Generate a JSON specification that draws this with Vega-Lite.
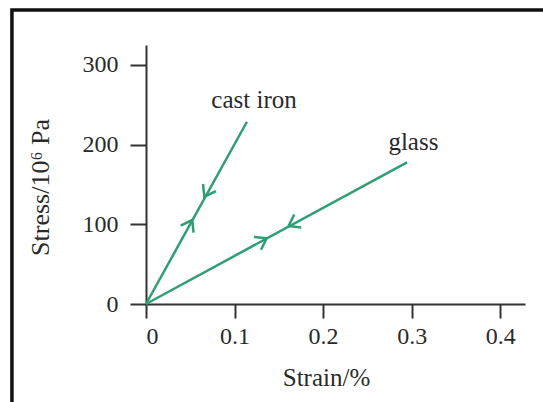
{
  "$schema": "https://vega.github.io/schema/vega-lite/v6.json",
  "width": 379,
  "height": 259,
  "autosize": {"type": "none"},
  "padding": {"left": 146, "top": 45, "right": 18, "bottom": 98},
  "background": "white",
  "config": {"view": {"stroke": null}, "font": "Liberation Serif"},
  "datasets": {
    "curves": [
      {"material": "cast iron", "strain": 0, "stress": 0},
      {"material": "cast iron", "strain": 0.114, "stress": 228.7},
      {"material": "glass", "strain": 0, "stress": 0},
      {"material": "glass", "strain": 0.2948, "stress": 177.8}
    ],
    "arrows": [
      {"material": "cast iron", "phase": "loading", "strain": 0.0522, "stress": 105.4},
      {"material": "cast iron", "phase": "unloading", "strain": 0.0659, "stress": 134.6},
      {"material": "glass", "phase": "loading", "strain": 0.1363, "stress": 82.4},
      {"material": "glass", "phase": "unloading", "strain": 0.161, "stress": 97.9}
    ],
    "labels": [
      {"material": "cast iron", "strain": 0.122, "stress": 256},
      {"material": "glass", "strain": 0.302, "stress": 203}
    ]
  },
  "layer": [
    {
      "data": {"values": [{}]},
      "mark": {"type": "rect", "fill": "transparent", "stroke": "#111111", "strokeWidth": 3.5, "clip": false},
      "encoding": {
        "x": {"datum": -0.1514, "type": "quantitative", "scale": {"domain": [0, 0.428], "nice": false, "zero": false}},
        "x2": {"datum": 0.4565},
        "y": {"datum": 368.9, "type": "quantitative", "scale": {"domain": [0, 325], "nice": false, "zero": false}},
        "y2": {"datum": -133}
      }
    },
    {
      "data": {"name": "curves"},
      "mark": {"type": "line", "color": "#2f9e73", "strokeWidth": 2.5},
      "encoding": {
        "detail": {"field": "material", "type": "nominal"},
        "x": {
          "field": "strain", "type": "quantitative",
          "scale": {"domain": [0, 0.428], "nice": false, "zero": false},
          "axis": {
            "values": [0, 0.1, 0.2, 0.3, 0.4], "format": "~g", "grid": false,
            "title": "Strain/%", "titleFont": "Liberation Serif", "titleFontSize": 25, "titleFontWeight": "normal", "titleColor": "#2a2a2a",
            "titleX": 180, "titleY": 73, "titleBaseline": "middle", "titleAnchor": null, "titleAlign": "center",
            "labelFont": "Liberation Serif", "labelFontSize": 24, "labelColor": "#2a2a2a", "labelPadding": 6,
            "domainColor": "#333333", "domainWidth": 2, "tickColor": "#333333", "tickWidth": 2, "tickSize": 14
          }
        },
        "y": {
          "field": "stress", "type": "quantitative",
          "scale": {"domain": [0, 325], "nice": false, "zero": false},
          "axis": {
            "values": [0, 100, 200, 300], "grid": false,
            "title": "Stress/10⁶ Pa", "titleFont": "Liberation Serif", "titleFontSize": 26, "titleFontWeight": "normal", "titleColor": "#2a2a2a",
            "titleX": -106, "titleY": 142, "titleAngle": -90, "titleBaseline": "middle", "titleAlign": "center", "titleAnchor": null,
            "labelFont": "Liberation Serif", "labelFontSize": 24, "labelColor": "#2a2a2a", "labelPadding": 12,
            "domainColor": "#333333", "domainWidth": 2, "tickColor": "#333333", "tickWidth": 2, "tickSize": 16
          }
        }
      }
    },
    {
      "data": {"name": "arrows"},
      "mark": {"type": "point", "shape": "M-0.7,1L0,0L0.7,1", "filled": false, "stroke": "#2f9e73", "strokeWidth": 2.5, "size": 440, "opacity": 1},
      "encoding": {
        "x": {"field": "strain", "type": "quantitative"},
        "y": {"field": "stress", "type": "quantitative"},
        "angle": {
          "condition": [
            {"test": "datum.material == 'cast iron' && datum.phase == 'loading'", "value": 29},
            {"test": "datum.material == 'cast iron' && datum.phase == 'unloading'", "value": 209},
            {"test": "datum.material == 'glass' && datum.phase == 'loading'", "value": 61.5}
          ],
          "value": 241.5
        }
      }
    },
    {
      "data": {"name": "labels"},
      "mark": {"type": "text", "font": "Liberation Serif", "fontSize": 25, "color": "#2a2a2a", "align": "center", "baseline": "middle"},
      "encoding": {
        "x": {"field": "strain", "type": "quantitative"},
        "y": {"field": "stress", "type": "quantitative"},
        "text": {"field": "material", "type": "nominal"}
      }
    }
  ]
}
